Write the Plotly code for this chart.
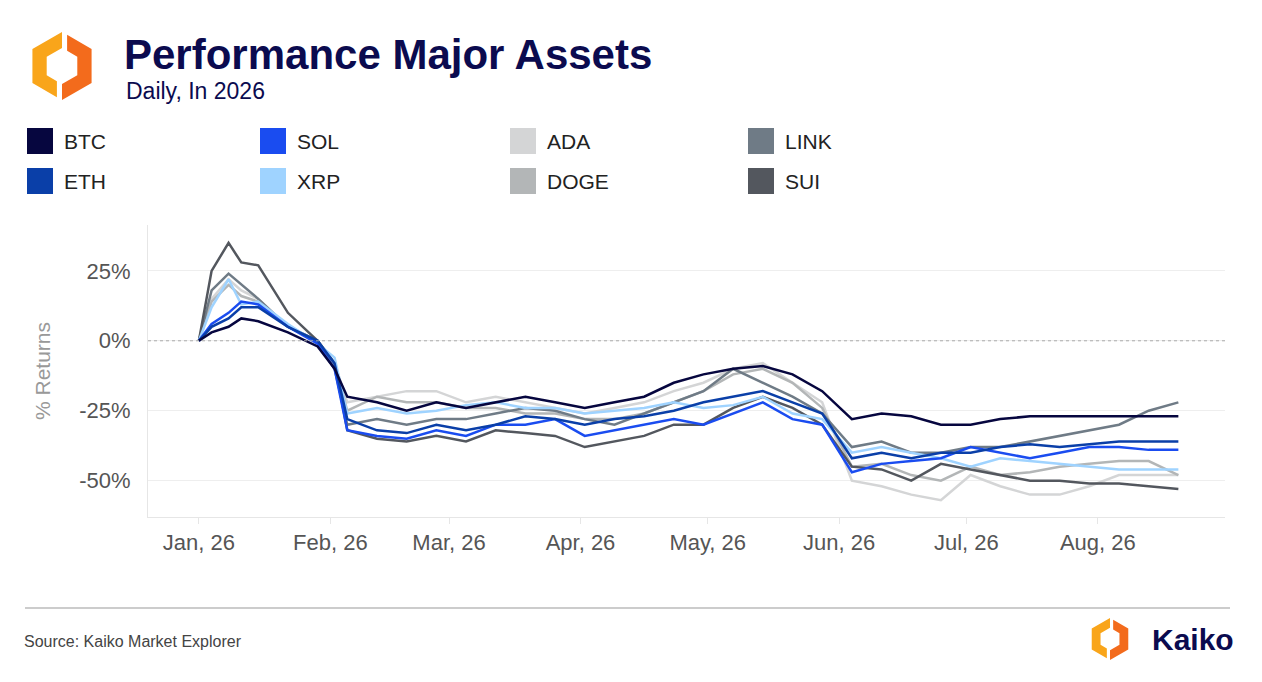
import pandas as pd
import plotly.graph_objects as go


dates = pd.to_datetime([
    "2026-01-01", "2026-01-04", "2026-01-08", "2026-01-11", "2026-01-15", "2026-01-22", "2026-01-29",
    "2026-02-02", "2026-02-05", "2026-02-12", "2026-02-19", "2026-02-26",
    "2026-03-05", "2026-03-12", "2026-03-19", "2026-03-26",
    "2026-04-02", "2026-04-09", "2026-04-16", "2026-04-23", "2026-04-30",
    "2026-05-07", "2026-05-14", "2026-05-21", "2026-05-28",
    "2026-06-04", "2026-06-11", "2026-06-18", "2026-06-25",
    "2026-07-02", "2026-07-09", "2026-07-16", "2026-07-23", "2026-07-30",
    "2026-08-06", "2026-08-13", "2026-08-20"])

btc = [0, 3, 5, 8, 7, 3, -2, -10, -20, -22, -25, -22, -24, -22, -20, -22, -24, -22, -20, -15, -12,
       -10, -9, -12, -18, -28, -26, -27, -30, -30, -28, -27, -27, -27, -27, -27, -27]
eth = [0, 5, 8, 12, 12, 5, 0, -8, -28, -32, -33, -30, -32, -30, -27, -28, -30, -28, -27, -25, -22,
       -20, -18, -22, -26, -42, -40, -42, -40, -40, -38, -37, -38, -37, -36, -36, -36]
sol = [0, 6, 10, 14, 13, 5, -1, -10, -32, -34, -35, -32, -34, -30, -30, -28, -34, -32, -30, -28, -30,
       -26, -22, -28, -30, -47, -44, -43, -42, -38, -40, -42, -40, -38, -38, -39, -39]
xrp = [0, 12, 22, 13, 14, 6, -1, -6, -26, -24, -26, -25, -23, -22, -24, -24, -26, -25, -24, -22, -24,
       -23, -20, -26, -28, -40, -38, -40, -42, -45, -42, -43, -44, -45, -46, -46, -46]
ada = [0, 15, 22, 18, 15, 5, 0, -8, -22, -20, -18, -18, -22, -20, -22, -24, -26, -24, -22, -18, -15,
       -10, -8, -15, -22, -50, -52, -55, -57, -48, -52, -55, -55, -52, -48, -48, -48]
doge = [0, 14, 20, 16, 14, 5, 0, -8, -25, -20, -22, -22, -24, -24, -26, -26, -28, -28, -26, -22, -18,
        -12, -10, -15, -24, -45, -44, -48, -50, -45, -48, -47, -45, -44, -43, -43, -48]
link = [0, 18, 24, 20, 15, 5, 0, -10, -30, -28, -30, -28, -28, -26, -24, -25, -28, -30, -26, -22, -18,
        -10, -15, -20, -26, -38, -36, -40, -40, -38, -38, -36, -34, -32, -30, -25, -22]
sui = [0, 25, 35, 28, 27, 10, 0, -8, -32, -35, -36, -34, -36, -32, -33, -34, -38, -36, -34, -30, -30,
       -24, -20, -24, -30, -45, -46, -50, -44, -46, -48, -50, -50, -51, -51, -52, -53]

names = ["BTC", "ETH", "SOL", "XRP", "ADA", "DOGE", "LINK", "SUI"]
series = [btc, eth, sol, xrp, ada, doge, link, sui]
colors = ["#06063f", "#0a3fa8", "#1a4cf0", "#9fd3ff", "#d4d5d6", "#b3b6b7", "#6f7b86", "#53575e"]
yticks = [-50, -25, 0, 25]
ytick_text = ["-50%", "-25%", "0%", "25%"]

# plot area in page pixels: left 148, right 1225, top 225, bottom 517 (page has an 8px body margin)
def px(x, y):
    return (x - 148) / 1077, (517 - y) / 292

fig = go.Figure()

# lines, drawn light-to-dark so dark ones sit on top
for i in [4, 5, 6, 7, 3, 2, 1, 0]:
    fig.add_trace(go.Scatter(x=dates, y=series[i], mode="lines", name=names[i],
                             line=dict(color=colors[i], width=2.5), showlegend=False))

fig.update_layout(
    width=1246, height=666,
    margin=dict(l=140, r=29, t=217, b=157),
    plot_bgcolor="white", paper_bgcolor="white",
    font=dict(family="Liberation Sans, Arial", color="#222"),
    showlegend=False,
    xaxis=dict(range=["2025-12-20", "2026-08-31"], dtick="M1", tick0="2026-01-01",
               tickformat="%b, %y", tickfont=dict(size=22, color="#555"), automargin=False,
               showgrid=False, showline=True, linecolor="#e6e6e6",
               ticks="outside", ticklen=6, tickcolor="#e6e6e6"),
    yaxis=dict(range=[-63, 41.4], tickvals=yticks, ticktext=ytick_text, automargin=False,
               tickfont=dict(size=22, color="#555"), gridcolor="#eeeeee", zeroline=False,
               ticklabelstandoff=12,
               title=dict(text="% Returns", font=dict(size=21, color="#999"), standoff=22),
               showline=True, linecolor="#e6e6e6"),
)

# dotted zero line
fig.add_hline(y=0, line=dict(color="#aaaaaa", width=1, dash="dot"))

# legend: 4 columns x 2 rows of square swatches
cols_x = [27, 260, 510, 748]
rows_y = [141, 181]
for i, n in enumerate(names):
    cx, cy = cols_x[i // 2], rows_y[i % 2]
    xa, ya = px(cx, cy + 13)
    xb, yb = px(cx + 26, cy - 13)
    fig.add_shape(type="rect", xref="paper", yref="paper", x0=xa, y0=ya, x1=xb, y1=yb,
                  fillcolor=colors[i], line=dict(width=0))
    fig.add_annotation(text=n, xref="paper", yref="paper", x=px(cx + 35, 0)[0], y=px(0, cy)[1],
                       xanchor="left", yanchor="middle", showarrow=False,
                       font=dict(size=21, color="#222"))

# title and subtitle
fig.add_annotation(text="<b>Performance Major Assets</b>", xref="paper", yref="paper",
                   x=px(122, 0)[0], y=px(0, 55)[1], xanchor="left", yanchor="middle",
                   showarrow=False, font=dict(size=42, color="#0b0b4f"))
fig.add_annotation(text="Daily, In 2026", xref="paper", yref="paper",
                   x=px(124, 0)[0], y=px(0, 91)[1], xanchor="left", yanchor="middle",
                   showarrow=False, font=dict(size=23, color="#0b0b4f"))

# footer
x0, y0 = px(25, 608)
x1, _ = px(1230, 608)
fig.add_shape(type="line", xref="paper", yref="paper", x0=x0, x1=x1, y0=y0, y1=y0,
              line=dict(color="#999999", width=1))
fig.add_annotation(text="Source: Kaiko Market Explorer", xref="paper", yref="paper",
                   x=px(22, 0)[0], y=px(0, 641)[1], xanchor="left", yanchor="middle",
                   showarrow=False, font=dict(size=16, color="#444"))
fig.add_annotation(text="<b>Kaiko</b>", xref="paper", yref="paper",
                   x=px(1236, 0)[0], y=px(0, 639)[1], xanchor="right", yanchor="middle",
                   showarrow=False, font=dict(size=30, color="#0b0b4f"))


def logo(cx, cy, s):
    """Orange hexagon ring split in two halves, like the Kaiko mark."""
    left = [(0, -1), (-0.87, -0.5), (-0.87, 0.5), (-0.15, 0.92), (-0.15, 0.45), (-0.45, 0.27),
            (-0.45, -0.27), (0, -0.53)]
    right = [(0, 1), (0.87, 0.5), (0.87, -0.5), (0.15, -0.92), (0.15, -0.45), (0.45, -0.27),
             (0.45, 0.27), (0, 0.53)]
    for pts, col in [(left, "#f9a51a"), (right, "#f36b1c")]:
        path = ""
        for k, (a, b) in enumerate(pts):
            xx, yy = px(cx + a * s, cy + b * s)
            path += ("M" if k == 0 else "L") + f"{xx},{yy} "
        fig.add_shape(type="path", xref="paper", yref="paper", path=path + "Z",
                      fillcolor=col, line=dict(width=0))


logo(62, 66, 34)
logo(1110, 639, 21)

fig.write_html("out.html")
